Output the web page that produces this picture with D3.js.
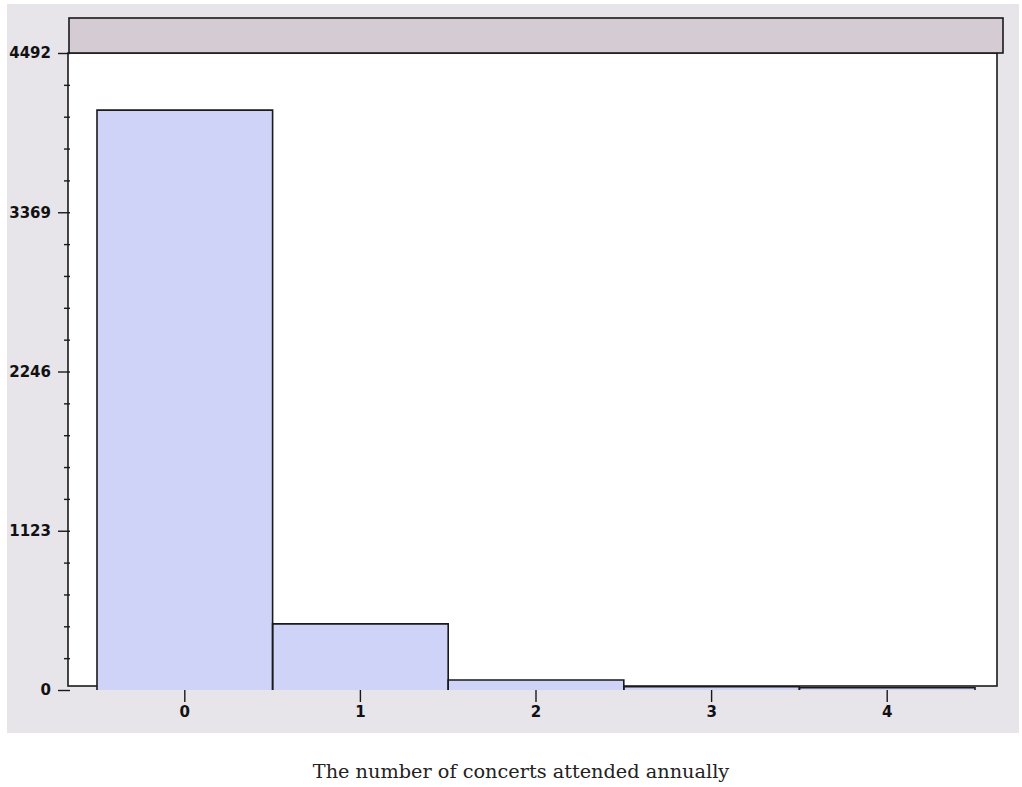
<!DOCTYPE html>
<html>
<head>
<meta charset="utf-8">
<script src="https://cdn.jsdelivr.net/npm/d3@7"></script>
<style>
  body { margin: 0; background: #fff; }
</style>
</head>
<body>
<svg></svg>
<script>
// data
let categories = ['0', '1', '2', '3', '4'];
let counts = [4089, 466, 71, 23, 16];
let yTickValues = [0, 1123, 2246, 3369, 4492];
let titleText = 'The number of concerts attended annually';

let width = 1022;
let height = 787;

let svg = d3.select('svg')
    .attr('width', width)
    .attr('height', height);

// gray panel behind everything
svg.append('rect')
    .attr('x', 7).attr('y', 4)
    .attr('width', 1012).attr('height', 729)
    .attr('fill', '#e7e4ea');

let yMax = yTickValues[yTickValues.length - 1];

let xScale = d3.scaleBand()
    .domain(categories)
    .range([97, 975])
    .padding(0);

let yScale = d3.scaleLinear()
    .domain([0, yMax])
    .range([690, 53]);

// white plot frame
svg.append('rect')
    .attr('x', 68).attr('y', 53)
    .attr('width', 929).attr('height', 633)
    .attr('fill', '#fff')
    .attr('stroke', '#1a1a1a')
    .attr('stroke-width', 1.6);

// header strip
svg.append('rect')
    .attr('x', 69).attr('y', 18)
    .attr('width', 934).attr('height', 35)
    .attr('fill', '#d5cbd3')
    .attr('stroke', '#1a1a1a')
    .attr('stroke-width', 1.6);

// bars: fill first, then outline (left, top, right) without bottom edge
let bars = svg.append('g');
bars.selectAll('rect')
    .data(counts)
    .enter()
    .append('rect')
    .attr('x', (d, i) => xScale(categories[i]))
    .attr('y', (d) => yScale(d))
    .attr('width', xScale.bandwidth())
    .attr('height', (d) => yScale(0) - yScale(d))
    .attr('fill', '#d0d3f8');

bars.selectAll('path')
    .data(counts)
    .enter()
    .append('path')
    .attr('d', (d, i) => {
        let x0 = xScale(categories[i]);
        let x1 = x0 + xScale.bandwidth();
        let y0 = yScale(0);
        let y1 = yScale(d);
        return `M${x0},${y0}V${y1}H${x1}V${y0}`;
    })
    .attr('fill', 'none')
    .attr('stroke', '#1a1a1a')
    .attr('stroke-width', 1.6);

// y axis: minor ticks then major ticks with labels
let minorValues = d3.range(0, yMax + 1, yMax / 20)
    .filter((v, i) => i % 5 !== 0);

let yMinor = d3.axisLeft(yScale)
    .tickValues(minorValues)
    .tickSize(6)
    .tickFormat('');

svg.append('g')
    .attr('transform', 'translate(70, 0)')
    .call(yMinor)
    .call(g => g.select('.domain').remove())
    .call(g => g.selectAll('line').attr('stroke', '#1a1a1a').attr('stroke-width', 1.4));

let yAxis = d3.axisLeft(yScale)
    .tickValues(yTickValues)
    .tickSize(12)
    .tickPadding(7)
    .tickFormat(d3.format('d'));

svg.append('g')
    .attr('id', 'y-axis')
    .attr('transform', 'translate(70, 0)')
    .call(yAxis)
    .call(g => g.select('.domain').remove())
    .call(g => g.selectAll('line').attr('stroke', '#1a1a1a').attr('stroke-width', 1.4))
    .call(g => g.selectAll('text')
        .style('font-family', '"DejaVu Sans", Verdana, sans-serif')
        .style('font-size', '15px')
        .style('font-weight', 'bold')
        .attr('fill', '#111'));

// x axis
let xAxis = d3.axisBottom(xScale)
    .tickSize(12)
    .tickPadding(4);

svg.append('g')
    .attr('id', 'x-axis')
    .attr('transform', 'translate(0, 690)')
    .call(xAxis)
    .call(g => g.select('.domain').remove())
    .call(g => g.selectAll('line').attr('stroke', '#1a1a1a').attr('stroke-width', 1.4))
    .call(g => g.selectAll('text')
        .style('font-family', '"DejaVu Sans", Verdana, sans-serif')
        .style('font-size', '15px')
        .style('font-weight', 'bold')
        .attr('fill', '#111'));

// title under the chart
svg.append('text')
    .attr('x', 521)
    .attr('y', 778)
    .attr('text-anchor', 'middle')
    .style('font-family', '"DejaVu Serif", "Liberation Serif", serif')
    .style('font-size', '19.3px')
    .attr('fill', '#222')
    .text(titleText);
</script>
</body>
</html>
